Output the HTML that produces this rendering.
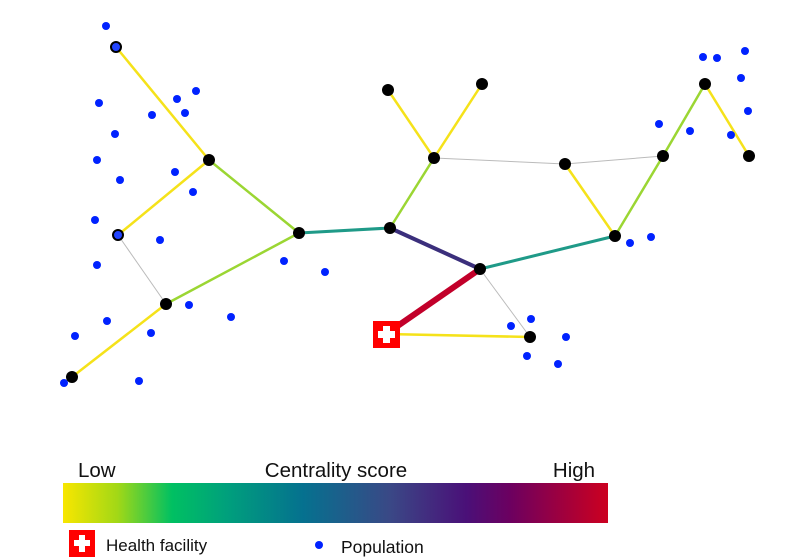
<!DOCTYPE html>
<html><head><meta charset="utf-8"><style>
html,body{margin:0;padding:0;background:#fff;}
svg{display:block;font-family:"Liberation Sans",sans-serif;}
</style></head><body>
<svg width="804" height="560" viewBox="0 0 804 560" xmlns="http://www.w3.org/2000/svg">
<defs>
<linearGradient id="g" x1="0" x2="1" y1="0" y2="0">
<stop offset="0" stop-color="#f8e600"/>
<stop offset="0.1" stop-color="#a2d816"/>
<stop offset="0.2" stop-color="#00c062"/>
<stop offset="0.3" stop-color="#00a07c"/>
<stop offset="0.44" stop-color="#05718f"/>
<stop offset="0.6" stop-color="#3a4886"/>
<stop offset="0.74" stop-color="#4a1078"/>
<stop offset="0.82" stop-color="#6c0060"/>
<stop offset="1" stop-color="#cc0020"/>
</linearGradient>
</defs>
<g stroke-linecap="round">
<g stroke="#bbb" stroke-width="1">
<line x1="118" y1="235" x2="166" y2="304"/>
<line x1="434" y1="158" x2="565" y2="164"/>
<line x1="565" y1="164" x2="663" y2="156"/>
<line x1="480" y1="269" x2="530" y2="337"/>
</g>
<g stroke="#f5e21a" stroke-width="2.5">
<line x1="116" y1="47" x2="209" y2="160"/>
<line x1="118" y1="235" x2="209" y2="160"/>
<line x1="166" y1="304" x2="72" y2="377"/>
<line x1="434" y1="158" x2="388" y2="90"/>
<line x1="434" y1="158" x2="482" y2="84"/>
<line x1="565" y1="164" x2="615" y2="236"/>
<line x1="705" y1="84" x2="749" y2="156"/>
<line x1="386" y1="334" x2="530" y2="337"/>
</g>
<g stroke="#9bd633" stroke-width="2.5">
<line x1="209" y1="160" x2="299" y2="233"/>
<line x1="166" y1="304" x2="299" y2="233"/>
<line x1="390" y1="228" x2="434" y2="158"/>
<line x1="615" y1="236" x2="663" y2="156"/>
<line x1="663" y1="156" x2="705" y2="84"/>
</g>
<g stroke="#1f9a88" stroke-width="3">
<line x1="299" y1="233" x2="390" y2="228"/>
<line x1="480" y1="269" x2="615" y2="236"/>
</g>
<line x1="390" y1="228" x2="480" y2="269" stroke="#3b2f7c" stroke-width="4"/>
<line x1="386" y1="334" x2="480" y2="269" stroke="#c2002a" stroke-width="6"/>
</g>
<g fill="#0022ff">
<circle cx="106" cy="26" r="4"/><circle cx="99" cy="103" r="4"/><circle cx="115" cy="134" r="4"/><circle cx="97" cy="160" r="4"/><circle cx="120" cy="180" r="4"/><circle cx="95" cy="220" r="4"/><circle cx="97" cy="265" r="4"/><circle cx="107" cy="321" r="4"/><circle cx="75" cy="336" r="4"/><circle cx="64" cy="383" r="4"/><circle cx="139" cy="381" r="4"/><circle cx="151" cy="333" r="4"/><circle cx="189" cy="305" r="4"/><circle cx="231" cy="317" r="4"/><circle cx="160" cy="240" r="4"/><circle cx="193" cy="192" r="4"/><circle cx="175" cy="172" r="4"/><circle cx="152" cy="115" r="4"/><circle cx="177" cy="99" r="4"/><circle cx="185" cy="113" r="4"/><circle cx="196" cy="91" r="4"/><circle cx="284" cy="261" r="4"/><circle cx="325" cy="272" r="4"/><circle cx="511" cy="326" r="4"/><circle cx="531" cy="319" r="4"/><circle cx="527" cy="356" r="4"/><circle cx="558" cy="364" r="4"/><circle cx="566" cy="337" r="4"/><circle cx="630" cy="243" r="4"/><circle cx="651" cy="237" r="4"/><circle cx="659" cy="124" r="4"/><circle cx="690" cy="131" r="4"/><circle cx="703" cy="57" r="4"/><circle cx="717" cy="58" r="4"/><circle cx="745" cy="51" r="4"/><circle cx="741" cy="78" r="4"/><circle cx="748" cy="111" r="4"/><circle cx="731" cy="135" r="4"/>
</g>
<g fill="#000">
<circle cx="209" cy="160" r="6"/><circle cx="166" cy="304" r="6"/><circle cx="72" cy="377" r="6"/><circle cx="299" cy="233" r="6"/><circle cx="390" cy="228" r="6"/><circle cx="480" cy="269" r="6"/><circle cx="434" cy="158" r="6"/><circle cx="388" cy="90" r="6"/><circle cx="482" cy="84" r="6"/><circle cx="565" cy="164" r="6"/><circle cx="663" cy="156" r="6"/><circle cx="705" cy="84" r="6"/><circle cx="749" cy="156" r="6"/><circle cx="615" cy="236" r="6"/><circle cx="530" cy="337" r="6"/>
</g>
<circle cx="116" cy="47" r="5" fill="#2244ff" stroke="#000" stroke-width="2"/>
<circle cx="118" cy="235" r="5" fill="#2244ff" stroke="#000" stroke-width="2"/>
<rect x="373" y="321" width="27" height="27" fill="#ff0000"/>
<rect x="383" y="326" width="7" height="17" fill="#fff"/>
<rect x="378" y="331" width="17" height="7" fill="#fff"/>
<text x="78" y="477" font-size="20.5" fill="#111">Low</text>
<text x="336" y="477" font-size="20.5" fill="#111" text-anchor="middle">Centrality score</text>
<text x="574" y="477" font-size="20.5" fill="#111" text-anchor="middle">High</text>
<rect x="63" y="483" width="545" height="40" fill="url(#g)"/>
<rect x="69" y="530" width="26" height="27" fill="#ff0000"/>
<rect x="79" y="535" width="6" height="17" fill="#fff"/>
<rect x="74" y="540" width="16" height="6" fill="#fff"/>
<text x="106" y="551" font-size="17" fill="#111">Health facility</text>
<circle cx="319" cy="545" r="4" fill="#0022ff"/>
<text x="341" y="553" font-size="17.5" fill="#111">Population</text>
</svg>
</body></html>
